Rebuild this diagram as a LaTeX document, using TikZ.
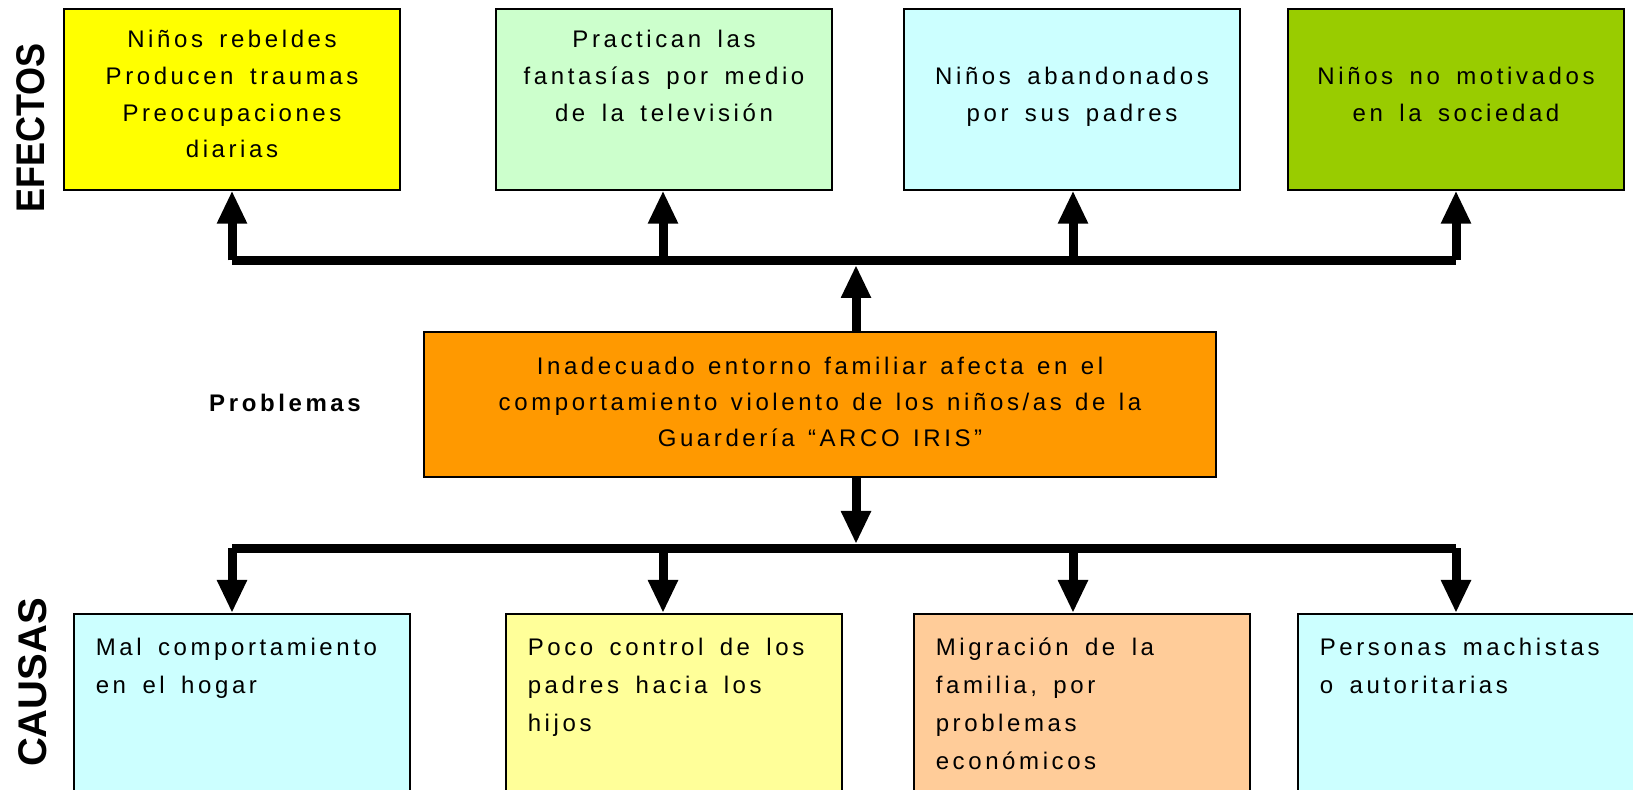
\documentclass[tikz,border=0pt]{standalone}
\usepackage{fontspec}
\setmainfont{Liberation Sans}
\newfontfamily\espaciado[LetterSpace=15,WordSpace=1.6]{Liberation Sans}
\usepackage{graphicx}
\usetikzlibrary{arrows.meta}
\definecolor{amarillo}{HTML}{FFFF00}
\definecolor{verdeclaro}{HTML}{CCFFCC}
\definecolor{celeste}{HTML}{CCFFFF}
\definecolor{verde}{HTML}{99CC00}
\definecolor{naranja}{HTML}{FF9900}
\definecolor{amarilloclaro}{HTML}{FFFF99}
\definecolor{durazno}{HTML}{FFCC99}

\begin{document}
\begin{tikzpicture}[x=0.5pt,y=-0.5pt,
  efecto/.style={draw,line width=0.8pt,anchor=north,inner sep=0pt,text width=168pt,align=flush center,text height=19.5pt,text depth=71pt,font=\espaciado\fontsize{12pt}{18.35pt}\selectfont},
  causa/.style={draw,line width=0.8pt,anchor=north west,inner xsep=11pt,inner ysep=0pt,text width=146pt,align=flush left,text height=21pt,text depth=110pt,font=\espaciado\fontsize{12pt}{19pt}\selectfont},
  barra/.style={line width=4.5pt},
  flecha/.style={line width=4.5pt,-{Triangle[length=16.5pt,width=14pt]}}]
\useasboundingbox (0,0) rectangle (1633,790);
\clip (0,0) rectangle (1633,790);

\node[rotate=90,font=\bfseries\fontsize{20pt}{20pt}\selectfont] (efectos) at (31,128) {\scalebox{0.9}[1]{EFECTOS}};
\node[rotate=90,font=\bfseries\fontsize{20pt}{20pt}\selectfont] (causas) at (32.5,682.5) {CAUSAS};

  \node[efecto,fill=amarillo] (rebeldes) at (232,8) {Niños rebeldes\\Producen traumas\\Preocupaciones\\diarias};
  \node[efecto,fill=verdeclaro] (fantasias) at (664,8) {Practican las\\fantasías por medio\\de la televisión};
  \node[efecto,fill=celeste] (abandonados) at (1072,8) {\mbox{}\\Niños abandonados\\por sus padres};
  \node[efecto,fill=verde] (motivados) at (1456,8) {\mbox{}\\Niños no motivados\\en la sociedad};

\node[font=\espaciado\bfseries\fontsize{12pt}{14pt}\selectfont] (etiqueta) at (285,402.5) {Problemas};
 \node[draw,line width=0.8pt,fill=naranja,inner sep=0pt,text width=396pt,minimum height=72.5pt,align=flush center,text height=9pt,text depth=39pt,font=\espaciado\fontsize{12pt}{18pt}\selectfont] (problema) at (820,404.5) {\spaceskip=6.7pt plus 1pt\relax Inadecuado entorno familiar afecta en el\\comportamiento violento de los niños/as de la\\Guardería “ARCO IRIS”};

  \node[causa,fill=celeste] (hogar) at (73,613) {Mal comportamiento\\en el hogar};
  \node[causa,fill=amarilloclaro] (control) at (505,613) {Poco control de los\\padres hacia los\\hijos};
  \node[causa,fill=durazno] (migracion) at (913,613) {Migración de la\\familia, por\\problemas\\económicos};
  \node[causa,fill=celeste] (machistas) at (1297,613) {Personas machistas\\o autoritarias};

\foreach \n/\x in {1/232,2/663,3/1073,4/1456}{
  \coordinate (s\n) at (\x,260.5);
  \coordinate (i\n) at (\x,548.5);
}
\coordinate (s0) at (856,260.5);
\coordinate (i0) at (856,548.5);

   \draw[barra] (s1) -- (s4);
   \draw[barra] (i1) -- (i4);
   \draw[flecha,shorten >=2.25pt] (problema.north -| s0) -- (s0);
   \draw[flecha,shorten >=2.25pt] (problema.south -| i0) -- (i0);

      \draw[flecha] (s1) -- (s1 |- rebeldes.south);
      \draw[flecha] (s2) -- (s2 |- fantasias.south);
      \draw[flecha] (s3) -- (s3 |- abandonados.south);
      \draw[flecha] (s4) -- (s4 |- motivados.south);

      \draw[flecha] (i1) -- (i1 |- hogar.north);
      \draw[flecha] (i2) -- (i2 |- control.north);
      \draw[flecha] (i3) -- (i3 |- migracion.north);
      \draw[flecha] (i4) -- (i4 |- machistas.north);
\end{tikzpicture}
\end{document}
